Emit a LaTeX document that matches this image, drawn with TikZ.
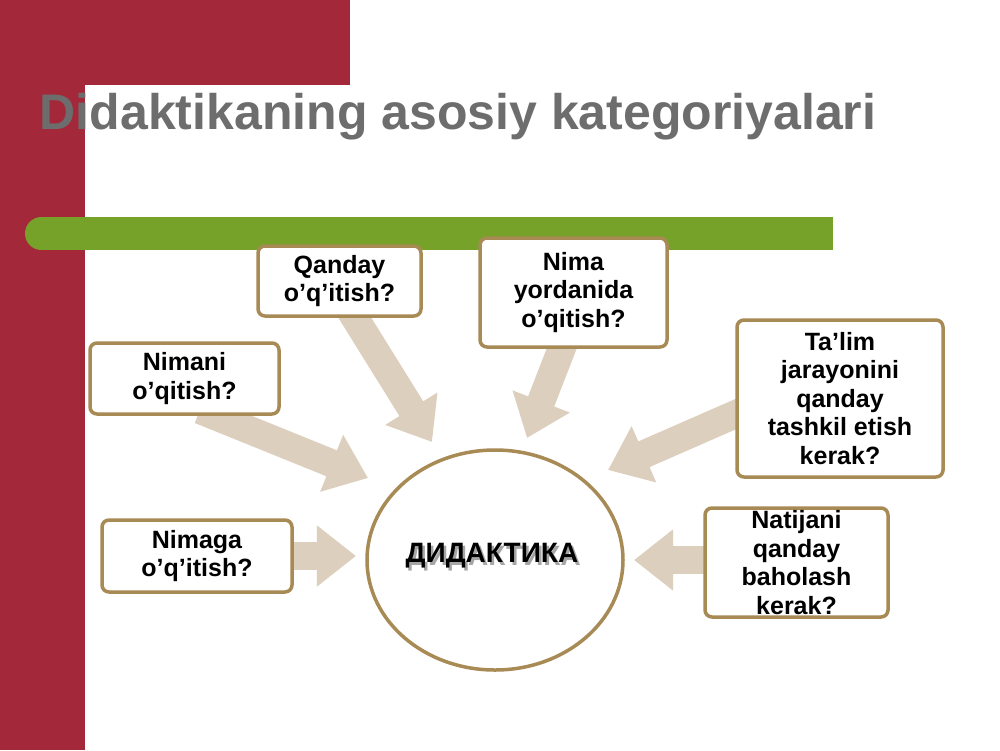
\documentclass[tikz,border=0pt]{standalone}
\usepackage{fontspec}
\setmainfont{Liberation Sans}
\usetikzlibrary{arrows.meta}
\definecolor{redb}{HTML}{A3293A}
\definecolor{greenb}{HTML}{76A22A}
\definecolor{tanb}{HTML}{A88A55}
\definecolor{arr}{HTML}{DDCFBD}
\definecolor{ttl}{HTML}{6D6D6D}
\begin{document}
\begin{tikzpicture}[x=1pt,y=-1pt,
  qbox/.style={draw=tanb,line width=3.5pt,fill=white,rounded corners=7pt,align=center,font=\fontsize{25}{28.5}\selectfont\bfseries,inner sep=0pt},
  barr/.style={draw=arr,line width=28pt,-{Triangle[length=0pt 1.4,width=0pt 2.1]}}]
\useasboundingbox (0,0) rectangle (1000,750);
\fill[white] (0,0) rectangle (1000,750);
\fill[redb] (0,0) rectangle (85,750);
\fill[redb] (0,0) rectangle (350,85);
\node[text=ttl,font=\fontsize{50}{54}\selectfont\bfseries] (title) at (458,117) {Didaktikaning asosiy kategoriyalari};
\fill[greenb] (41.5,233.5) circle[radius=16.5];
\fill[greenb] (41.5,217) rectangle (833,250);
% arrows
\coordinate (a1) at (200,410); \coordinate (a2) at (368,478);
\coordinate (b1) at (350,310); \coordinate (b2) at (432,442);
\coordinate (c1) at (565,340); \coordinate (c2) at (527,438);
\coordinate (d1) at (745,410); \coordinate (d2) at (608,470);
\coordinate (e1) at (290,556); \coordinate (e2) at (356,556);
\coordinate (f1) at (712,560); \coordinate (f2) at (634,560);
\draw[barr] (a1) -- (a2);
\draw[barr] (b1) -- (b2);
\draw[barr] (c1) -- (c2);
\draw[barr] (d1) -- (d2);
\draw[barr] (e1) -- (e2);
\draw[barr] (f1) -- (f2);
% boxes
\node[qbox,minimum width=163pt,minimum height=70pt] (q1) at (339.5,281) {Qanday\\o’q’itish?};
\node[qbox,minimum width=187pt,minimum height=109pt] (q2) at (573.5,292.5) {Nima\\yordanida\\o’qitish?};
\node[qbox,minimum width=189pt,minimum height=71pt] (q3) at (184.5,378.5) {Nimani\\o’qitish?};
\node[qbox,minimum width=206pt,minimum height=157pt] (q4) at (840,398.5) {Ta’lim\\jarayonini\\qanday\\tashkil etish\\kerak?};
\node[qbox,minimum width=190pt,minimum height=72pt] (q5) at (197,556) {Nimaga\\o’q’itish?};
\node[qbox,minimum width=183pt,minimum height=109pt] (q6) at (796.5,562.5) {Natijani\\qanday\\baholash\\kerak?};
\draw[tanb,line width=3.5pt,fill=white] (495,560) ellipse[x radius=128,y radius=110];
\node[font=\fontsize{28}{30}\selectfont\bfseries,text=black!35] at (494.5,558.5) {ДИДАКТИКА};
\node[font=\fontsize{28}{30}\selectfont\bfseries] (dd) at (492,556) {ДИДАКТИКА};
\end{tikzpicture}
\end{document}
